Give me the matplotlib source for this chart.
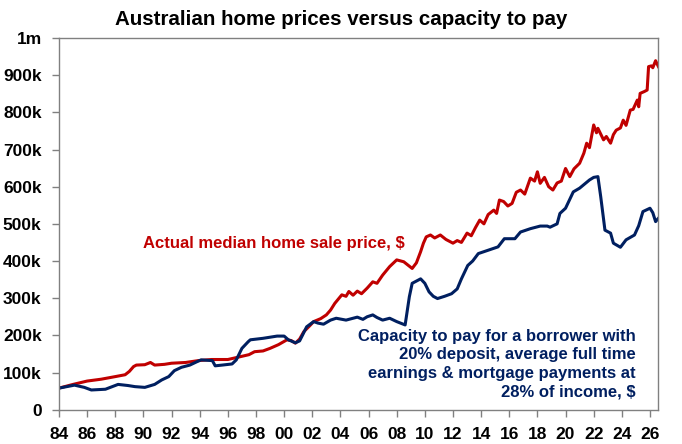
import matplotlib
matplotlib.use("Agg")
import matplotlib.pyplot as plt

plt.rcParams["font.family"] = ["Liberation Sans", "DejaVu Sans"]

# median home sale price, $k (year as decimal)
price_years = [
    1984.0, 1985.0, 1986.0, 1987.0, 1988.0, 1988.7, 1989.0, 1989.3, 1989.5, 1990.1,
    1990.5, 1990.8, 1991.5, 1992.0, 1993.0, 1993.9, 1994.85, 1996.0, 1996.7, 1997.5,
    1997.9, 1998.5, 1999.0, 1999.6, 2000.2, 2000.5, 2000.8, 2001.1, 2001.4, 2001.8,
    2002.1, 2002.6, 2003.0, 2003.3, 2003.6, 2004.1, 2004.4, 2004.6, 2004.9, 2005.2,
    2005.5, 2005.9, 2006.3, 2006.6, 2007.0, 2007.5, 2008.0, 2008.5, 2009.1, 2009.4,
    2009.7, 2009.9, 2010.1, 2010.4, 2010.7, 2011.1, 2011.5, 2012.0, 2012.3, 2012.6,
    2013.0, 2013.3, 2013.6, 2013.9, 2014.2, 2014.5, 2014.9, 2015.1, 2015.3, 2015.6,
    2015.9, 2016.2, 2016.5, 2016.8, 2017.1, 2017.5, 2017.8, 2018.0, 2018.2, 2018.5,
    2018.8, 2019.1, 2019.4, 2019.7, 2020.0, 2020.3, 2020.6, 2021.0, 2021.3, 2021.5,
    2021.7, 2022.0, 2022.2, 2022.3, 2022.7, 2022.9, 2023.2, 2023.4, 2023.6, 2023.9,
    2024.1, 2024.3, 2024.6, 2024.8, 2025.1, 2025.2, 2025.3, 2025.6, 2025.8, 2025.9,
    2026.1, 2026.2, 2026.4, 2026.6,
]
price_vals = [
    58, 68, 77, 82, 89, 94, 103, 116, 120, 121,
    127, 120, 122, 125, 127, 132, 135, 135, 141, 148,
    156, 158, 165, 175, 188, 186, 179, 190, 210, 225,
    237, 245, 255, 268, 286, 309, 305, 318, 308, 319,
    312, 327, 344, 340, 362, 385, 403, 398, 380, 395,
    425, 448, 465, 470, 462, 470, 458, 448, 455, 450,
    475, 468, 490, 510, 500, 525, 537, 528, 564, 560,
    548, 555, 585, 591, 580, 623, 615, 640, 609, 625,
    600, 591, 610, 615, 649, 627, 648, 663, 690, 717,
    705, 766, 745, 757, 726, 735, 717, 740, 752, 758,
    779, 765, 806, 808, 833, 815, 851, 856, 860, 923,
    925, 920, 939, 923,
]

# capacity to pay, $k
cap_years = [
    1984.0, 1985.1, 1985.8, 1986.3, 1987.3, 1988.2, 1988.9, 1989.4, 1990.1, 1990.8,
    1991.3, 1991.8, 1992.2, 1992.7, 1993.3, 1993.8, 1994.1, 1994.9, 1995.1, 1995.6,
    1996.3, 1996.6, 1997.0, 1997.45, 1997.6, 1998.5, 1999.5, 2000.0, 2000.3, 2000.8,
    2001.1, 2001.3, 2001.6, 2002.1, 2002.4, 2002.8, 2003.3, 2003.7, 2004.4, 2004.8,
    2005.2, 2005.6, 2005.9, 2006.3, 2006.6, 2007.0, 2007.5, 2008.0, 2008.6, 2008.9,
    2009.1, 2009.7, 2010.0, 2010.3, 2010.6, 2010.9, 2011.4, 2011.9, 2012.3, 2012.6,
    2013.05, 2013.4, 2013.8, 2014.5, 2015.2, 2015.65, 2016.4, 2016.8, 2017.5, 2018.2,
    2018.7, 2018.9, 2019.4, 2019.6, 2020.0, 2020.55, 2021.0, 2021.7, 2022.0, 2022.3,
    2022.5, 2022.8, 2023.2, 2023.4, 2023.9, 2024.3, 2024.9, 2025.2, 2025.5, 2026.0,
    2026.2, 2026.4, 2026.6,
]
cap_vals = [
    58, 66, 60, 53, 55, 68, 65, 62, 60, 68,
    80, 89, 105, 114, 120, 129, 134, 132, 118, 120,
    123, 134, 165, 183, 188, 192, 198, 198, 188, 180,
    185, 200, 223, 237, 233, 230, 241, 246, 241, 245,
    249, 243, 250, 255, 248, 241, 246, 237, 228, 304,
    340, 352, 340, 317, 305, 299, 305, 312, 325, 352,
    388, 400, 420, 429, 438, 460, 460, 478, 487, 494,
    494, 491, 500, 528, 542, 586, 596, 618, 625, 627,
    573, 483, 475, 448, 437, 457, 470, 495, 533, 542,
    530, 506, 515,
]

x_ticks = list(range(1984, 2027, 2))
x_labels = [f"{t % 100:02d}" for t in x_ticks]
y_ticks = list(range(0, 1001, 100))
y_labels = ["0"] + [f"{v}k" for v in y_ticks[1:-1]] + ["1m"]

RED = "#C00000"
NAVY = "#001F60"

fig = plt.figure(figsize=(6.82, 4.44), dpi=100)
ax = fig.add_axes([0.0865, 0.0773, 0.8783, 0.8371])

ax.plot(price_years, price_vals, color=RED, lw=2.2)
ax.plot(cap_years, cap_vals, color=NAVY, lw=2.2)

ax.set_xlim(1984, 2026.57)
ax.set_ylim(0, 1000)
ax.set_xticks(x_ticks)
ax.set_xticklabels(x_labels)
ax.set_yticks(y_ticks)
ax.set_yticklabels(y_labels)
ax.tick_params(axis="both", direction="out", length=5, width=1, color="#808080",
               labelsize=12.5, pad=7.5)
for lbl in ax.get_xticklabels() + ax.get_yticklabels():
    lbl.set_fontweight("bold")
for sp in ax.spines.values():
    sp.set_color("#808080")
    sp.set_linewidth(1)

# title is centred on the whole figure, not the axes
fig.text(0.5, 0.955, "Australian home prices versus capacity to pay", fontsize=14.8,
         fontweight="bold", ha="center", va="center")

ax.text(1990.0, 447, "Actual median home sale price, $", color=RED,
        fontsize=12, fontweight="bold", va="center", ha="left")
ax.text(2025.0, 123, "Capacity to pay for a borrower with\n20% deposit, average full time\n"
        "earnings & mortgage payments at\n28% of income, $", color=NAVY,
        fontsize=12, fontweight="bold", va="center", ha="right", multialignment="right",
        linespacing=1.3)

fig.savefig("out.png", dpi=100)
